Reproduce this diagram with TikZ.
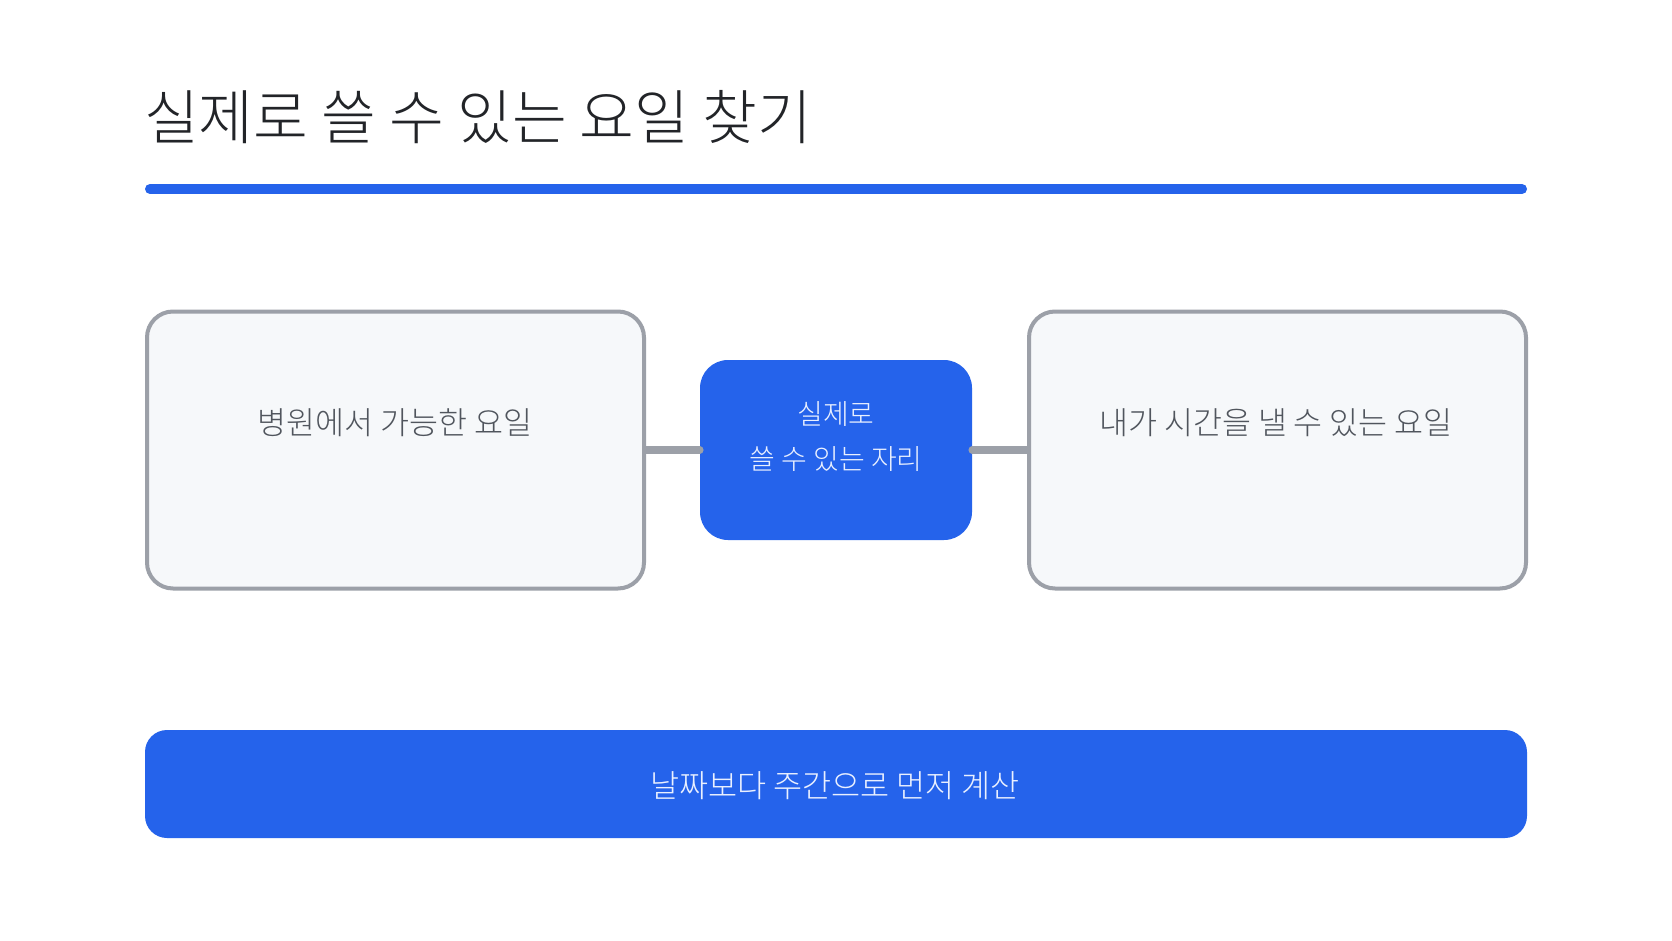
\documentclass[tikz,border=0pt]{standalone}
\usepackage{fontspec}
\IfFontExistsTF{Noto Sans CJK KR Light}{\setmainfont{Noto Sans CJK KR Light}}{%
  \IfFontExistsTF{Noto Sans CJK KR DemiLight}{\setmainfont{Noto Sans CJK KR DemiLight}}{\setmainfont{Noto Sans CJK KR}}}
\usetikzlibrary{calc}
\definecolor{mainblue}{HTML}{2563EB}
\definecolor{bordergray}{HTML}{9CA0A8}
\definecolor{boxfill}{HTML}{F6F8FA}
\definecolor{titletext}{HTML}{222428}
\definecolor{boxtext}{HTML}{50555D}
\definecolor{lighttext}{HTML}{EAF0FF}
\begin{document}
\begin{tikzpicture}[x=1pt,y=-1pt,
  sidebox/.style={draw=bordergray, line width=4pt, fill=boxfill, rounded corners=26pt,
    minimum width=497pt, minimum height=277pt, inner sep=0pt},
  midbox/.style={fill=mainblue, rounded corners=28pt, minimum width=272pt,
    minimum height=180pt, inner sep=0pt},
  barbox/.style={fill=mainblue, rounded corners=22pt, minimum width=1382pt,
    minimum height=108pt, inner sep=0pt},
  conn/.style={draw=bordergray, line width=7.5pt, line cap=round},
  sidetext/.style={text=boxtext, inner sep=0pt, font=\fontsize{31.5}{36}\selectfont},
  lighttxt/.style={text=lighttext, inner sep=0pt, align=center}]
\useasboundingbox (0,0) rectangle (1672,941);
\fill[white] (0,0) rectangle (1672,941);
% title and rule
\node[anchor=west, inner sep=0pt, text=titletext, font=\fontsize{59.5}{64}\selectfont] (title) at (144,117) {실제로 쓸 수 있는 요일 찾기};
\coordinate (ruleA) at (150,189);
\coordinate (ruleB) at (1522,189);
\draw[mainblue, line width=10pt, line cap=round] (ruleA) -- (ruleB);
% boxes
\node[sidebox] (L) at (395.5,450) {};
\node[sidebox] (R) at (1277.5,450) {};
\node[midbox] (M) at (836,450) {};
\node[barbox] (B) at (836,784) {};
% connectors
\draw[conn] (M.west -| L.east) -- (M.west);
\draw[conn] (M.east) -- (M.east -| R.west);
% texts
\node[sidetext] (Lt) at (395,423) {병원에서 가능한 요일};
\node[sidetext] (Rt) at (1276,423) {내가 시간을 낼 수 있는 요일};
\node[lighttxt, font=\fontsize{28}{45}\selectfont] (Mt) at (836,437) {실제로\\쓸 수 있는 자리};
\node[lighttxt, font=\fontsize{31.6}{36}\selectfont] (Bt) at (835,786) {날짜보다 주간으로 먼저 계산};
\end{tikzpicture}
\end{document}
